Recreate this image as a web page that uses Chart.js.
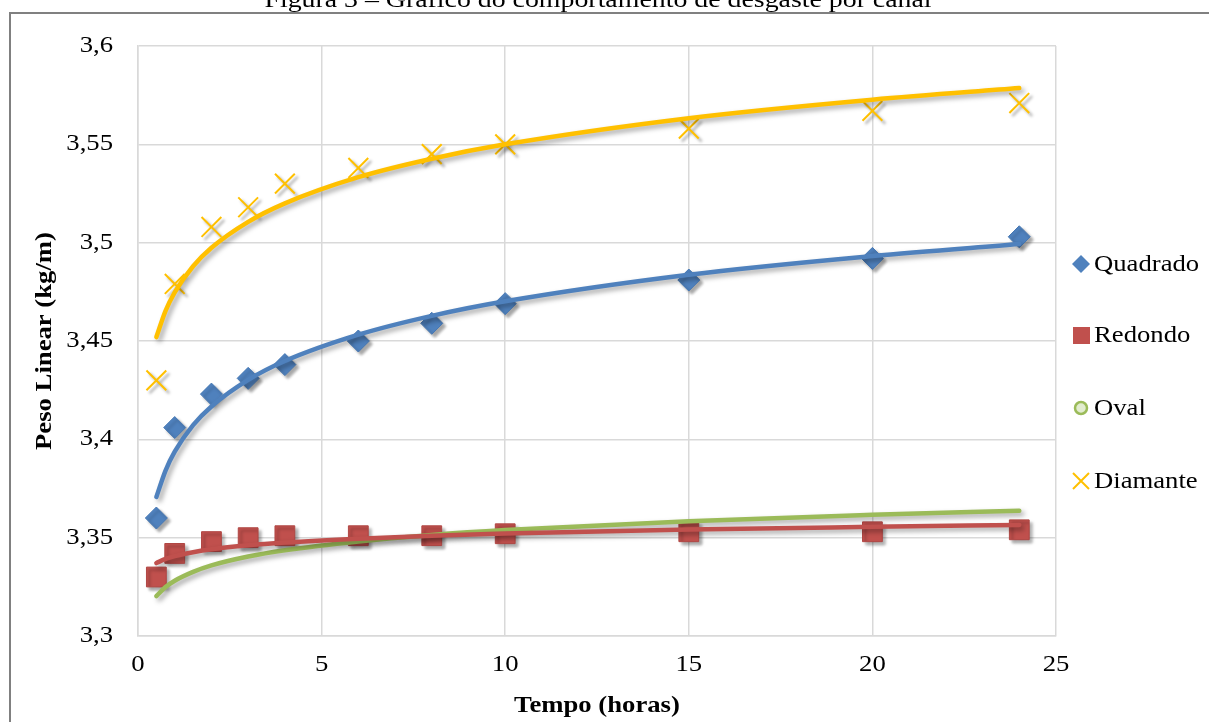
<!DOCTYPE html>
<html>
<head>
<meta charset="utf-8">
<script src="https://cdn.jsdelivr.net/npm/chart.js@4.4.1/dist/chart.umd.min.js"></script>
<style>
  html, body { margin: 0; padding: 0; background: #ffffff; }
  #wrap { position: relative; width: 1209px; height: 722px; }
  canvas { display: block; }
</style>
</head>
<body>
<div id="wrap"><canvas id="c" width="1209" height="722"></canvas></div>
<script>
// ---- Data ----
const titleText = 'Figura 3 – Gráfico do comportamento de desgaste por canal';
const xTitle = 'Tempo (horas)';
const yTitle = 'Peso Linear (kg/m)';
const seriesNames = ['Quadrado', 'Redondo', 'Oval', 'Diamante'];

const hours = [0.5, 1, 2, 3, 4, 6, 8, 10, 15, 20, 24];
const quadrado = [3.360, 3.406, 3.423, 3.431, 3.438, 3.450, 3.459, 3.469, 3.481, 3.492, 3.503];
const redondo  = [3.330, 3.342, 3.348, 3.350, 3.351, 3.351, 3.351, 3.352, 3.353, 3.353, 3.354];
const oval     = [3.330, 3.342, 3.348, 3.350, 3.351, 3.351, 3.351, 3.352, 3.353, 3.353, 3.354];
const diamante = [3.430, 3.479, 3.508, 3.518, 3.530, 3.538, 3.545, 3.550, 3.558, 3.567, 3.571];

// trendlines (logarithmic in the source)
const trendHours     = [0.5, 0.75, 1, 1.5, 2, 3, 4, 6, 8, 10, 15, 20, 24];
const trendQuadrado  = [3.3707, 3.3841, 3.3937, 3.4072, 3.4167, 3.4302, 3.4398, 3.4532, 3.4628, 3.4702, 3.4837, 3.4932, 3.4993];
const trendRedondo   = [3.3371, 3.3392, 3.3406, 3.3426, 3.3441, 3.3461, 3.3475, 3.3495, 3.3510, 3.3521, 3.3541, 3.3555, 3.3565];
const trendOval      = [3.3203, 3.3249, 3.3281, 3.3326, 3.3359, 3.3404, 3.3436, 3.3481, 3.3514, 3.3539, 3.3584, 3.3616, 3.3637];
const trendDiamante  = [3.4520, 3.4653, 3.4747, 3.4880, 3.4974, 3.5106, 3.5200, 3.5333, 3.5427, 3.5500, 3.5633, 3.5727, 3.5786];

const xMin = 0, xMax = 25, xStep = 5;
const yMin = 3.3, yMax = 3.6, yStep = 0.05;

// ---- Styles ----
const C_BLUE = '#4F81BD', C_RED = '#C0504D', C_GREEN = '#9BBB59', C_YELLOW = '#FFC000';
const SERIF = '"Liberation Serif", "Times New Roman", serif';
const STRETCH = 1.16;

function pts(xs, ys) { return xs.map((x, i) => ({ x: x, y: ys[i] })); }

function trendDs(label, xs, ys, color) {
  return {
    label: label, data: pts(xs, ys), showLine: true, isTrend: true,
    borderColor: color, backgroundColor: color, borderWidth: 4.5,
    borderCapStyle: 'round', pointRadius: 0, pointHoverRadius: 0,
    cubicInterpolationMode: 'monotone', order: 1
  };
}

const datasets = [
  trendDs('trend Quadrado', trendHours, trendQuadrado, C_BLUE),
  trendDs('trend Redondo', trendHours, trendRedondo, C_RED),
  trendDs('trend Oval', trendHours, trendOval, C_GREEN),
  trendDs('trend Diamante', trendHours, trendDiamante, C_YELLOW),
  { label: seriesNames[2], data: pts(hours, oval), pointStyle: 'circle', pointRadius: 5,
    backgroundColor: '#E2ECCF', borderColor: C_GREEN, borderWidth: 2, order: 5, showLine: false },
  { label: seriesNames[1], data: pts(hours, redondo), pointStyle: 'rect', pointRadius: 14,
    backgroundColor: C_RED, borderColor: '#B04744', borderWidth: 1, order: 3, showLine: false },
  { label: seriesNames[0], data: pts(hours, quadrado), pointStyle: 'rectRot', pointRadius: 11,
    backgroundColor: C_BLUE, borderColor: '#4577B3', borderWidth: 1, order: 3, showLine: false },
  { label: seriesNames[3], data: pts(hours, diamante), pointStyle: 'crossRot', pointRadius: 14,
    backgroundColor: C_YELLOW, borderColor: C_YELLOW, borderWidth: 2, order: 3, showLine: false }
];

function fmt(v) {
  const r = Math.round(v * 100) / 100;
  return String(r).replace('.', ',');
}

function text(ctx, str, x, y, font, align, rot) {
  ctx.save();
  ctx.translate(x, y);
  if (rot) ctx.rotate(rot);
  ctx.scale(STRETCH, 1);
  ctx.font = font;
  ctx.fillStyle = '#000';
  ctx.textAlign = align;
  ctx.textBaseline = 'middle';
  ctx.fillText(str, 0, 0);
  ctx.restore();
}

const shadowPlugin = {
  id: 'shadow',
  beforeDatasetDraw(chart, args) {
    const ds = chart.data.datasets[args.index];
    const ctx = chart.ctx;
    ctx.save();
    ctx.shadowColor = 'rgba(0,0,0,0.35)';
    ctx.shadowBlur = ds.isTrend ? 5 : 3;
    ctx.shadowOffsetX = 3;
    ctx.shadowOffsetY = 3;
  },
  afterDatasetDraw(chart) { chart.ctx.restore(); }
};

const decorPlugin = {
  id: 'decor',
  afterDraw(chart) {
    const ctx = chart.ctx;
    const area = chart.chartArea;
    const xs = chart.scales.x, ys = chart.scales.y;
    ctx.save();
    // outer frame (top and left lines)
    ctx.strokeStyle = '#808080';
    ctx.lineWidth = 2;
    ctx.beginPath();
    ctx.moveTo(10, 722); ctx.lineTo(10, 13); ctx.lineTo(1209, 13);
    ctx.stroke();
    // cut-off figure caption above the frame
    ctx.save();
    ctx.translate(598, 7);
    ctx.scale(STRETCH, 1);
    ctx.fillStyle = '#000';
    ctx.font = '24px ' + SERIF;
    ctx.textAlign = 'center';
    ctx.textBaseline = 'alphabetic';
    ctx.fillText(titleText, 0, 0);
    ctx.restore();
    // tick labels, placed with the library's scales
    const tickFont = '23px ' + SERIF;
    xs.ticks.forEach(t => text(ctx, fmt(t.value), xs.getPixelForValue(t.value), 665, tickFont, 'center'));
    ys.ticks.forEach(t => text(ctx, fmt(t.value), 113, ys.getPixelForValue(t.value), tickFont, 'right'));
    // axis titles
    const titleFont = 'bold 23px ' + SERIF;
    text(ctx, xTitle, (area.left + area.right) / 2, 706, titleFont, 'center');
    text(ctx, yTitle, 45, (area.top + area.bottom) / 2, titleFont, 'center', -Math.PI / 2);
    // legend
    const items = [
      { name: seriesNames[0], y: 264 },
      { name: seriesNames[1], y: 335 },
      { name: seriesNames[2], y: 408 },
      { name: seriesNames[3], y: 481 }
    ];
    const mx = 1081;
    items.forEach((it, i) => {
      ctx.save();
      if (i === 0) {
        ctx.fillStyle = C_BLUE;
        ctx.beginPath();
        ctx.moveTo(mx, it.y - 9); ctx.lineTo(mx + 9, it.y); ctx.lineTo(mx, it.y + 9); ctx.lineTo(mx - 9, it.y);
        ctx.closePath(); ctx.fill();
      } else if (i === 1) {
        ctx.fillStyle = C_RED;
        ctx.fillRect(mx - 8, it.y - 8, 17, 17);
      } else if (i === 2) {
        ctx.fillStyle = '#E2ECCF';
        ctx.strokeStyle = C_GREEN;
        ctx.lineWidth = 2.5;
        ctx.beginPath(); ctx.arc(mx, it.y, 6, 0, Math.PI * 2); ctx.fill(); ctx.stroke();
      } else {
        ctx.strokeStyle = C_YELLOW;
        ctx.lineWidth = 2;
        ctx.beginPath();
        ctx.moveTo(mx - 8, it.y - 8); ctx.lineTo(mx + 8, it.y + 8);
        ctx.moveTo(mx + 8, it.y - 8); ctx.lineTo(mx - 8, it.y + 8);
        ctx.stroke();
      }
      ctx.restore();
      text(ctx, it.name, 1094, it.y + 1, '23px ' + SERIF, 'left');
    });
    ctx.restore();
  }
};

new Chart(document.getElementById('c'), {
  type: 'scatter',
  data: { datasets: datasets },
  options: {
    responsive: false,
    animation: false,
    events: [],
    layout: { padding: { left: 0, right: 153, top: 46, bottom: 0 } },
    plugins: { legend: { display: false }, tooltip: { enabled: false }, title: { display: false } },
    scales: {
      x: {
        type: 'linear', min: xMin, max: xMax,
        afterFit(s) { s.height = 86; },
        grid: { color: '#D9D9D9', lineWidth: 1.5, drawTicks: false },
        border: { color: '#D9D9D9', width: 1.5 },
        ticks: { stepSize: xStep, display: false }
      },
      y: {
        type: 'linear', min: yMin, max: yMax,
        afterFit(s) { s.width = 138; },
        grid: { color: '#D9D9D9', lineWidth: 1.5, drawTicks: false },
        border: { color: '#D9D9D9', width: 1.5 },
        ticks: { stepSize: yStep, display: false }
      }
    }
  },
  plugins: [shadowPlugin, decorPlugin]
});
</script>
</body>
</html>
